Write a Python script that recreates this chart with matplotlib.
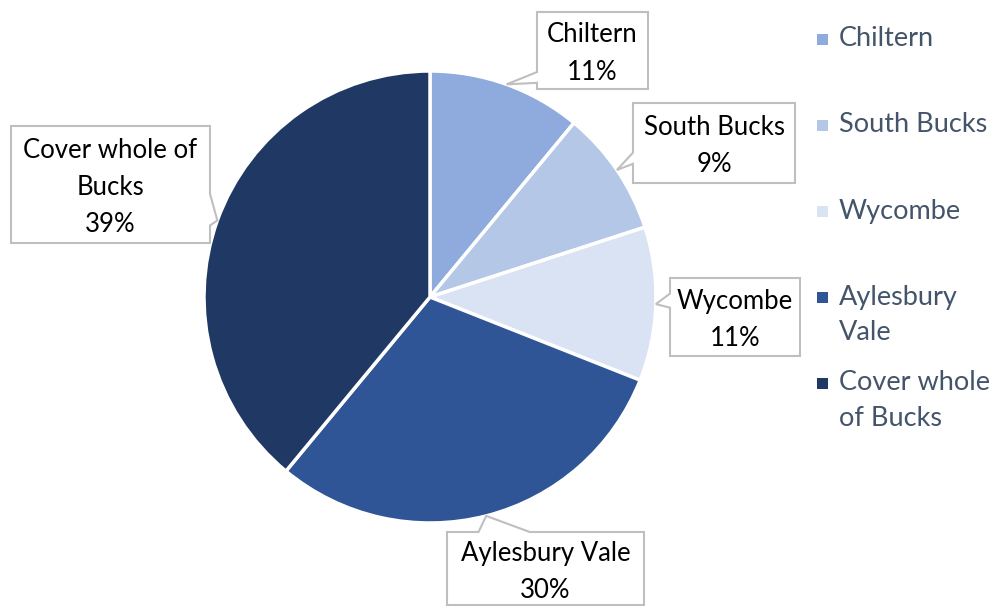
import matplotlib.pyplot as plt
import numpy as np
from matplotlib.patches import Polygon, Rectangle

W, H = 1001, 610

areas = ["Chiltern", "South Bucks", "Wycombe", "Aylesbury Vale", "Cover whole of Bucks"]
shares = [11, 9, 11, 30, 39]
colors = ["#8FAADC", "#B4C7E7", "#DAE3F3", "#2F5597", "#203864"]
box_text = ["Chiltern", "South Bucks", "Wycombe", "Aylesbury Vale", "Cover whole of\nBucks"]
legend_text = ["Chiltern", "South Bucks", "Wycombe", "Aylesbury\nVale", "Cover whole\nof Bucks"]

plt.rcParams['font.family'] = ['Lato', 'DejaVu Sans']

fig = plt.figure(figsize=(W / 100, H / 100), dpi=100)
ax = fig.add_axes([0, 0, 1, 1])

cx, cy, r = 430, H - 297, 226
ax.pie(shares, colors=colors, startangle=90, counterclock=False,
       center=(cx, cy), radius=r, frame=True,
       wedgeprops=dict(edgecolor='white', linewidth=2.5))
ax.set_xlim(0, W)
ax.set_ylim(0, H)
ax.axis('off')

# callout boxes (image pixels: left, top, right, bottom), side of pointer, base along edge
boxes = [
    (537, 12, 648, 89, 'left', (0.78, 0.92)),
    (633, 103, 795, 183, 'left', (0.62, 0.76)),
    (670, 278, 800, 356, 'left', (0.2, 0.38)),
    (447, 532, 644, 605, 'top', (0.16, 0.42)),
    (11, 126, 210, 243, 'right', (0.58, 0.85)),
]

fracs = np.array(shares) / sum(shares)
ends = 90 - 360 * np.cumsum(fracs)
starts = ends + 360 * fracs
mids = np.radians((starts + ends) / 2)

for i, (l, t, rr, b, side, (p0, p1)) in enumerate(boxes):
    tip = (cx + r * np.cos(mids[i]), cy + r * np.sin(mids[i]))
    T, B = H - t, H - b
    if side == 'left':
        y0, y1 = T - p0 * (T - B), T - p1 * (T - B)
        pts = [(l, T), (l, y0), tip, (l, y1), (l, B), (rr, B), (rr, T)]
    elif side == 'right':
        y0, y1 = T - p0 * (T - B), T - p1 * (T - B)
        pts = [(l, T), (l, B), (rr, B), (rr, y1), tip, (rr, y0), (rr, T)]
    else:
        x0, x1 = l + p0 * (rr - l), l + p1 * (rr - l)
        pts = [(l, T), (x0, T), tip, (x1, T), (rr, T), (rr, B), (l, B)]
    ax.add_patch(Polygon(pts, closed=True, facecolor='white', edgecolor='#BFBFBF',
                         linewidth=1.5, zorder=5))
    lines = f"{box_text[i]}\n{shares[i]}%".split("\n")
    ymid = (T + B) / 2 - 3
    for k, ln in enumerate(lines):
        y = ymid + (len(lines) - 1) * 18.5 - k * 37
        ax.text((l + rr) / 2, y, ln, ha='center', va='center', fontsize=18.5,
                color='black', zorder=6)

# legend
for i, lab in enumerate(legend_text):
    yc = H - (39 + i * 86)
    ax.add_patch(Rectangle((817, yc - 5.5), 11, 11, facecolor=colors[i], edgecolor='none'))
    for k, ln in enumerate(lab.split("\n")):
        ax.text(839, yc - k * 35, ln, ha='left', va='center', fontsize=19.5,
                color='#44546A')

fig.savefig("out.png", dpi=100)
